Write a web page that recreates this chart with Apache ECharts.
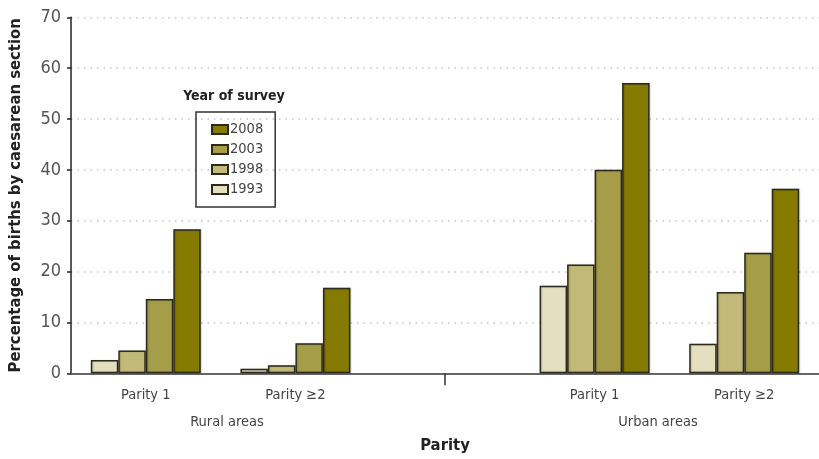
<!DOCTYPE html>
<html>
<head>
<meta charset="utf-8">
<script src="https://cdn.jsdelivr.net/npm/echarts@6/dist/echarts.min.js"></script>
<style>
html,body{margin:0;padding:0;background:#fff;}
#main{width:819px;height:459px;}
</style>
</head>
<body>
<div id="main"></div>
<script>
var categories = ['Rural Parity 1', 'Rural Parity ≥2', 'gap', 'Urban Parity 1', 'Urban Parity ≥2'];
var tickLabels = ['Parity 1', 'Parity ≥2', '', 'Parity 1', 'Parity ≥2'];
var groupLabels = ['Rural areas', 'Urban areas'];
var years = ['1993', '1998', '2003', '2008'];
var v1993 = [2.6, 0.9, null, 17.2, 5.8];
var v1998 = [4.5, 1.6, null, 21.4, 16.0];
var v2003 = [14.6, 5.9, null, 40.0, 23.7];
var v2008 = [28.3, 16.8, null, 57.1, 36.3];
var yTicks = [0, 10, 20, 30, 40, 50, 60, 70];

var FONT = "'DejaVu Sans Condensed', 'Liberation Sans Narrow', sans-serif";
var colors = {'1993': '#e3dfbf', '1998': '#c1b977', '2003': '#a59d48', '2008': '#847b00'};
var values = {'1993': v1993, '1998': v1998, '2003': v2003, '2008': v2008};

var chart = echarts.init(document.getElementById('main'));
var series = years.map(function (y) {
  return {
    name: y,
    type: 'bar',
    data: values[y],
    barWidth: 27.5,
    barGap: '0%',
    itemStyle: {
      color: colors[y],
      borderColor: '#2b2a1c',
      borderWidth: 1.5,
      shadowColor: 'rgba(0,0,0,0.18)',
      shadowBlur: 1.5,
      shadowOffsetX: 1
    }
  };
});

chart.setOption({
  animation: false,
  grid: {left: 71, right: 0, top: 17.3, bottom: 85.7, containLabel: false, outerBoundsMode: 'none'},
  legend: {
    orient: 'vertical',
    left: 196,
    top: 112,
    data: ['2008', '2003', '1998', '1993'],
    icon: 'rect',
    itemWidth: 16,
    itemHeight: 9,
    itemGap: 5,
    padding: [10, 12, 10, 15],
    borderColor: '#333',
    borderWidth: 1.5,
    textStyle: {fontFamily: FONT, fontSize: 14.5, color: '#444', padding: [0, 0, 0, -3]}
  },
  xAxis: {
    type: 'category',
    data: categories,
    name: 'Parity',
    nameLocation: 'middle',
    nameGap: 64,
    nameTextStyle: {fontFamily: FONT, fontSize: 16.5, fontWeight: 'bold', color: '#222'},
    axisLine: {lineStyle: {color: '#666', width: 2}},
    axisTick: {
      show: true,
      alignWithLabel: true,
      length: 12,
      interval: function (i) { return i === 2; },
      lineStyle: {color: '#333', width: 1.5}
    },
    axisLabel: {
      interval: 0,
      margin: 14,
      fontFamily: FONT,
      fontSize: 14.5,
      color: '#444',
      formatter: function (v, i) { return tickLabels[i]; }
    }
  },
  yAxis: {
    type: 'value',
    min: yTicks[0],
    max: yTicks[yTicks.length - 1],
    interval: 10,
    name: 'Percentage of births by caesarean section',
    nameLocation: 'middle',
    nameGap: 47,
    nameTextStyle: {fontFamily: FONT, fontSize: 16.5, fontWeight: 'bold', color: '#222'},
    axisLine: {show: true, lineStyle: {color: '#222', width: 1.5}},
    axisTick: {show: true, length: 4, lineStyle: {color: '#222', width: 1.5}},
    axisLabel: {fontFamily: FONT, fontSize: 18, color: '#555', margin: 10},
    splitLine: {lineStyle: {color: '#c4c4c4', width: 1.5, type: [1.5, 5]}}
  },
  graphic: [
    {type: 'text', x: 234, y: 96, style: {text: 'Year of survey', font: 'bold 14px ' + FONT, fill: '#222', align: 'center', verticalAlign: 'middle'}},
    {type: 'text', x: 227, y: 422, style: {text: groupLabels[0], font: '14.5px ' + FONT, fill: '#444', align: 'center', verticalAlign: 'middle'}},
    {type: 'text', x: 658, y: 422, style: {text: groupLabels[1], font: '14.5px ' + FONT, fill: '#444', align: 'center', verticalAlign: 'middle'}}
  ],
  series: series
});
</script>
</body>
</html>
